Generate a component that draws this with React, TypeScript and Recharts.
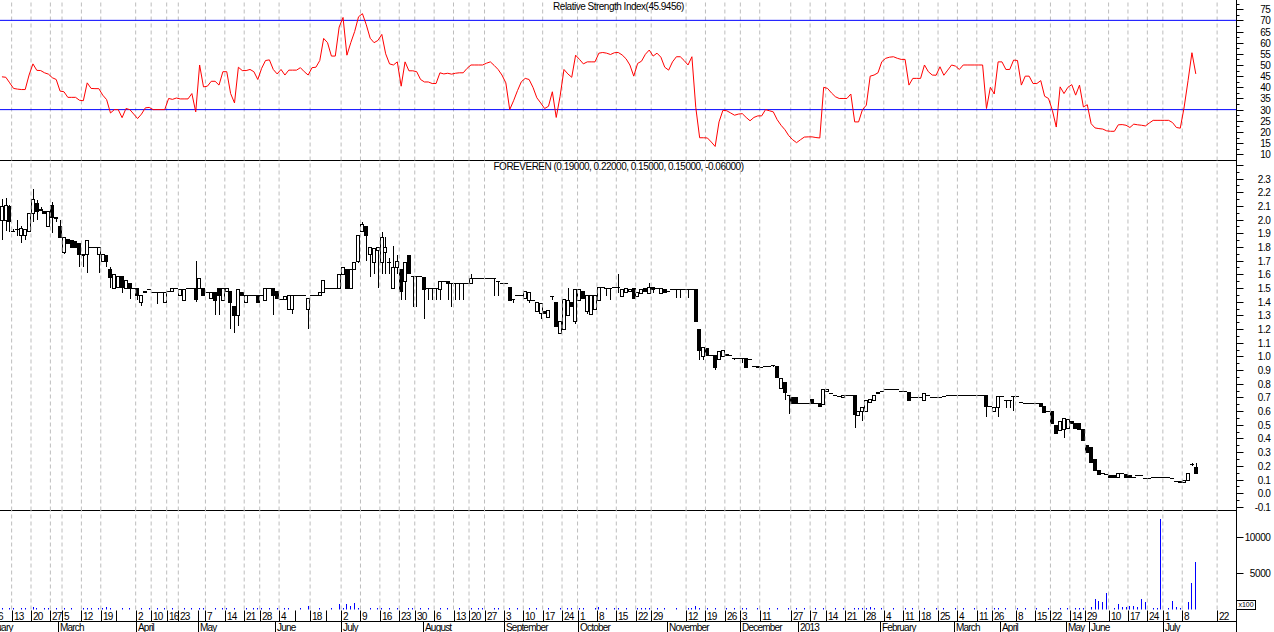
import React from 'react';
import { ComposedChart, Line, Bar, XAxis, YAxis, ReferenceLine } from 'recharts';

// ---------- daily candles (one entry per trading slot) ----------
const OPEN = [
  2.00,2.00,2.10,1.92,1.93,1.89,1.89,1.92,2.05,2.12,
  2.08,2.06,1.95,2.11,2.02,1.95,1.76,1.86,1.85,1.84,
  1.83,1.74,1.75,1.80,1.80,1.75,1.70,1.74,1.64,1.50,
  1.51,1.59,1.50,1.54,1.50,1.50,1.40,1.47,1.49,1.47,
  1.47,1.47,1.40,1.48,1.48,1.50,1.45,1.41,1.50,1.50,
  1.50,1.50,1.50,1.47,1.43,1.47,1.50,1.41,1.48,1.48,
  1.37,1.30,1.47,1.40,1.45,1.45,1.45,1.45,1.41,1.50,
  1.50,1.48,1.42,1.42,1.35,1.35,1.45,1.45,1.45,1.35,
  1.45,1.45,1.45,1.47,1.50,1.50,1.50,1.50,1.60,1.64,
  1.50,1.64,1.70,1.92,1.95,1.75,1.69,1.78,1.69,1.76,
  1.69,1.50,1.65,1.64,1.55,1.74,1.59,1.59,1.59,1.58,
  1.50,1.50,1.50,1.49,1.55,1.55,1.54,1.54,1.54,1.54,
  1.54,1.54,1.57,1.57,1.57,1.57,1.57,1.57,1.55,1.54,
  1.54,1.51,1.42,1.45,1.45,1.43,1.41,1.41,1.33,1.32,
  1.33,1.29,1.44,1.40,1.17,1.20,1.30,1.40,1.26,1.41,
  1.48,1.33,1.31,1.35,1.41,1.51,1.50,1.50,1.51,1.51,
  1.44,1.47,1.48,1.50,1.44,1.46,1.50,1.46,1.51,1.50,
  1.46,1.49,1.48,1.49,1.49,1.49,1.49,1.49,1.49,1.49,
  1.20,1.00,1.06,1.01,1.01,0.98,1.00,1.02,1.01,0.99,
  0.99,0.99,0.99,0.98,0.93,0.92,0.92,0.93,0.93,0.94,
  0.93,0.77,0.81,0.72,0.70,0.70,0.66,0.66,0.66,0.69,
  0.66,0.66,0.65,0.75,0.73,0.72,0.71,0.70,0.72,0.72,
  0.72,0.57,0.60,0.60,0.67,0.68,0.73,0.75,0.76,0.76,
  0.76,0.76,0.75,0.75,0.74,0.70,0.70,0.70,0.68,0.72,
  0.70,0.70,0.70,0.71,0.72,0.72,0.72,0.72,0.72,0.72,
  0.72,0.72,0.72,0.72,0.72,0.64,0.60,0.63,0.71,0.68,
  0.68,0.71,0.71,0.67,0.66,0.66,0.66,0.66,0.66,0.64,
  0.60,0.60,0.50,0.46,0.47,0.48,0.53,0.51,0.51,0.47,
  0.35,0.34,0.25,0.17,0.15,0.14,0.13,0.13,0.12,0.15,
  0.14,0.13,0.12,0.13,0.13,0.11,0.11,0.12,0.12,0.12,
  0.12,0.12,0.11,0.09,0.09,0.08,0.10,0.21,0.19,
];
const HIGH = [
  2.15,2.16,2.11,1.93,2.00,1.95,1.93,2.05,2.22,2.14,
  2.09,2.06,2.06,2.13,2.02,2.00,1.87,1.86,1.85,1.84,
  1.83,1.75,1.85,1.80,1.80,1.80,1.75,1.74,1.65,1.60,
  1.59,1.59,1.56,1.54,1.50,1.50,1.45,1.48,1.49,1.47,
  1.47,1.47,1.47,1.48,1.50,1.50,1.49,1.49,1.50,1.50,
  1.70,1.57,1.50,1.47,1.47,1.47,1.50,1.50,1.50,1.48,
  1.37,1.49,1.47,1.45,1.45,1.45,1.45,1.45,1.50,1.50,
  1.50,1.48,1.42,1.44,1.45,1.45,1.45,1.45,1.45,1.43,
  1.45,1.45,1.47,1.56,1.50,1.50,1.50,1.60,1.65,1.64,
  1.64,1.69,1.89,1.98,1.95,1.80,1.79,1.80,1.91,1.87,
  1.72,1.81,1.74,1.64,1.69,1.74,1.59,1.59,1.59,1.58,
  1.50,1.50,1.50,1.55,1.55,1.55,1.54,1.54,1.54,1.54,
  1.54,1.60,1.57,1.57,1.57,1.57,1.57,1.57,1.55,1.54,
  1.54,1.51,1.42,1.45,1.45,1.48,1.47,1.41,1.40,1.39,
  1.33,1.34,1.44,1.40,1.26,1.42,1.50,1.40,1.49,1.49,
  1.48,1.45,1.45,1.45,1.51,1.51,1.50,1.50,1.51,1.60,
  1.49,1.50,1.49,1.50,1.47,1.49,1.50,1.54,1.51,1.50,
  1.50,1.49,1.48,1.49,1.49,1.49,1.49,1.49,1.49,1.49,
  1.20,1.07,1.06,1.01,1.01,1.04,1.05,1.02,1.01,0.99,
  0.99,0.99,0.99,0.98,0.93,0.93,0.92,0.93,0.93,0.94,
  0.93,0.84,0.81,0.72,0.70,0.70,0.66,0.66,0.66,0.69,
  0.66,0.66,0.76,0.76,0.73,0.72,0.71,0.72,0.72,0.72,
  0.72,0.60,0.63,0.68,0.69,0.72,0.74,0.75,0.76,0.76,
  0.76,0.76,0.75,0.75,0.74,0.70,0.70,0.70,0.73,0.72,
  0.70,0.70,0.70,0.71,0.72,0.72,0.72,0.72,0.72,0.72,
  0.72,0.72,0.72,0.72,0.72,0.64,0.63,0.71,0.71,0.68,
  0.68,0.71,0.71,0.67,0.66,0.66,0.66,0.66,0.66,0.64,
  0.60,0.60,0.50,0.53,0.55,0.54,0.53,0.51,0.51,0.47,
  0.35,0.34,0.25,0.17,0.15,0.14,0.13,0.13,0.15,0.15,
  0.14,0.13,0.12,0.13,0.13,0.11,0.11,0.12,0.12,0.12,
  0.12,0.12,0.11,0.09,0.09,0.10,0.15,0.22,0.22,
];
const LOW = [
  1.85,1.92,1.91,1.91,1.88,1.83,1.85,1.92,1.98,2.00,
  2.06,2.05,1.95,1.90,1.98,1.87,1.75,1.82,1.80,1.79,
  1.65,1.65,1.61,1.80,1.80,1.61,1.70,1.65,1.50,1.50,
  1.51,1.46,1.50,1.42,1.50,1.41,1.37,1.47,1.49,1.47,
  1.38,1.47,1.40,1.48,1.48,1.50,1.45,1.41,1.50,1.50,
  1.40,1.50,1.45,1.47,1.43,1.30,1.30,1.41,1.48,1.20,
  1.17,1.22,1.45,1.40,1.45,1.45,1.40,1.45,1.41,1.50,
  1.30,1.43,1.42,1.42,1.35,1.31,1.45,1.45,1.45,1.20,
  1.45,1.45,1.45,1.47,1.50,1.50,1.50,1.50,1.60,1.50,
  1.50,1.64,1.68,1.92,1.70,1.58,1.60,1.50,1.60,1.60,
  1.60,1.50,1.60,1.41,1.41,1.61,1.36,1.36,1.59,1.27,
  1.41,1.41,1.41,1.41,1.55,1.41,1.36,1.41,1.41,1.41,
  1.54,1.54,1.57,1.57,1.57,1.57,1.57,1.44,1.44,1.54,
  1.54,1.41,1.39,1.45,1.45,1.43,1.39,1.41,1.33,1.27,
  1.32,1.28,1.41,1.22,1.17,1.20,1.30,1.37,1.24,1.41,
  1.43,1.31,1.30,1.35,1.41,1.51,1.44,1.41,1.51,1.46,
  1.44,1.47,1.48,1.43,1.44,1.46,1.48,1.46,1.46,1.50,
  1.46,1.47,1.48,1.49,1.43,1.43,1.49,1.43,1.49,1.26,
  0.97,0.97,1.01,1.01,0.90,0.98,1.00,1.01,1.01,0.97,
  0.99,0.95,0.92,0.98,0.93,0.92,0.92,0.93,0.93,0.92,
  0.85,0.77,0.68,0.58,0.66,0.66,0.66,0.66,0.66,0.66,
  0.66,0.64,0.65,0.75,0.73,0.72,0.71,0.70,0.72,0.72,
  0.48,0.57,0.53,0.60,0.67,0.68,0.73,0.75,0.76,0.76,
  0.76,0.76,0.75,0.75,0.68,0.70,0.70,0.70,0.68,0.72,
  0.70,0.70,0.70,0.71,0.72,0.72,0.72,0.72,0.72,0.72,
  0.72,0.72,0.72,0.72,0.56,0.64,0.60,0.56,0.71,0.62,
  0.62,0.60,0.71,0.67,0.66,0.66,0.66,0.66,0.635,0.59,
  0.60,0.51,0.43,0.46,0.40,0.48,0.51,0.48,0.47,0.39,
  0.30,0.23,0.17,0.14,0.15,0.14,0.12,0.12,0.12,0.15,
  0.12,0.12,0.12,0.13,0.13,0.11,0.11,0.12,0.12,0.12,
  0.12,0.12,0.11,0.09,0.08,0.08,0.10,0.20,0.15,
];
const CLOSE = [
  2.10,2.11,1.99,1.92,1.93,1.94,1.93,2.05,2.15,2.06,
  2.07,2.05,2.06,2.02,2.01,1.87,1.87,1.83,1.80,1.80,
  1.75,1.75,1.85,1.80,1.80,1.80,1.75,1.70,1.58,1.60,
  1.59,1.51,1.56,1.50,1.50,1.45,1.45,1.48,1.49,1.47,
  1.47,1.47,1.47,1.48,1.50,1.50,1.49,1.49,1.50,1.50,
  1.42,1.57,1.45,1.47,1.47,1.41,1.45,1.50,1.50,1.40,
  1.30,1.49,1.45,1.45,1.45,1.45,1.40,1.45,1.50,1.50,
  1.45,1.43,1.42,1.44,1.45,1.45,1.45,1.45,1.45,1.43,
  1.45,1.45,1.47,1.56,1.50,1.50,1.50,1.60,1.65,1.50,
  1.64,1.69,1.89,1.97,1.89,1.80,1.79,1.80,1.87,1.80,
  1.69,1.65,1.70,1.48,1.69,1.61,1.59,1.59,1.59,1.49,
  1.50,1.50,1.50,1.55,1.55,1.54,1.54,1.54,1.54,1.54,
  1.54,1.57,1.57,1.57,1.57,1.57,1.57,1.57,1.55,1.54,
  1.54,1.41,1.42,1.45,1.45,1.48,1.47,1.41,1.40,1.39,
  1.32,1.34,1.44,1.22,1.26,1.42,1.41,1.37,1.49,1.49,
  1.43,1.45,1.45,1.45,1.51,1.51,1.50,1.50,1.51,1.51,
  1.49,1.50,1.49,1.43,1.47,1.49,1.48,1.51,1.49,1.50,
  1.50,1.47,1.48,1.49,1.49,1.49,1.49,1.49,1.49,1.26,
  1.05,1.07,1.01,1.01,0.92,1.04,1.05,1.01,1.01,0.99,
  0.99,0.99,0.92,0.98,0.93,0.93,0.92,0.93,0.93,0.94,
  0.85,0.84,0.74,0.72,0.66,0.66,0.66,0.66,0.66,0.66,
  0.66,0.64,0.76,0.76,0.73,0.72,0.71,0.72,0.72,0.72,
  0.58,0.60,0.63,0.68,0.69,0.72,0.74,0.75,0.76,0.76,
  0.76,0.76,0.75,0.75,0.68,0.70,0.70,0.70,0.73,0.72,
  0.70,0.70,0.70,0.71,0.72,0.72,0.72,0.72,0.72,0.72,
  0.72,0.72,0.72,0.72,0.64,0.64,0.63,0.71,0.71,0.68,
  0.68,0.71,0.71,0.67,0.66,0.66,0.66,0.66,0.635,0.59,
  0.60,0.51,0.44,0.53,0.55,0.54,0.51,0.48,0.47,0.39,
  0.30,0.23,0.17,0.14,0.15,0.14,0.12,0.12,0.15,0.15,
  0.12,0.12,0.12,0.13,0.13,0.11,0.11,0.12,0.12,0.12,
  0.12,0.12,0.11,0.09,0.08,0.10,0.15,0.21,0.15,
];
const RSI = [
  44.7,44.5,42,39.5,39.2,39,39,45.5,50.5,47.6,
  47.5,46.5,45.9,44.3,43.5,38.3,38,35.5,35.5,35.5,
  34.2,34,42,39.5,39.4,39.4,36.5,34.5,28.5,30,
  30,26.4,30.5,30,28,26,28,30.8,31,30,
  30,30,30,35,34.6,35.2,34.8,34.8,34.8,37.2,
  29,50,40.2,40.5,42.7,42.7,41,47,47,37.2,
  33,49,47.5,47.5,48,47,43.5,48.5,52,52.3,
  48,46,48,45.5,47.7,47.7,47.7,48.8,47,45.5,
  48.8,49,52,61.9,60,54,54,67,71.3,54.4,
  60,65,71.6,73,68,62,60,61,63.7,55,
  50.5,50,51.4,40.5,51.4,47.4,47.4,47,43.5,42.4,
  42.4,41.7,41.7,46.5,46,46.3,45.9,46.3,46.5,46.5,
  48.5,50,50,50,50,50.8,51.4,49.8,48,45.5,
  42,30,34,38.5,42.5,44,43.5,40,35.3,33,
  30.5,31.5,38,26.5,36,48,46,44.5,54.4,52.5,
  50.5,51.4,51.4,51.4,55.3,55.6,55.3,54.7,55.5,55.6,
  54.5,52.8,50,45,50.7,51.7,54.8,56.7,54,55.3,
  53.5,49,47.7,51.4,53.7,53.7,52,50,53.7,31,
  17.4,17.4,17.3,15.5,13.5,24.5,29.7,29.5,28.5,27.5,
  28,28.2,26.5,25,26.5,27.2,27.2,30,29.5,29,
  25.5,23,21,18.3,16.5,15.2,16.5,17.7,17.8,17.8,
  17.5,17.3,40,39.5,37.5,35.8,35,35,35,37,
  24.5,24.5,30,32,45,45.5,46.5,51.5,53,53.5,
  53.7,53,52.5,52.5,41,44,44,44,50,47,
  45.5,45.4,49.2,45.4,47.7,50,49.5,48,50,50,
  50,50,50,50,30.5,40,37,51.4,51.4,48,
  48,52.2,52,41,45,45,41.7,41.7,43,36,
  35,29.7,22.2,40.2,37.2,40,41.2,36.5,41,31.2,
  32.2,23.7,21.8,21.5,21.3,20.5,20.3,20.3,23.2,23.3,
  23,22,23.5,23.2,23,22.7,24,25.2,25.2,25.2,
  25.2,25.2,24.2,22,21.7,31.2,43,55.5,46,
];
// volume, in units of 100 shares (axis shows "x100")
const VOLUME = [
  150,0,150,150,0,150,150,0,400,150,
  0,150,150,0,200,0,150,0,150,0,
  0,150,150,200,0,150,200,400,150,0,
  0,150,0,150,0,0,150,0,150,0,
  150,0,150,0,150,0,0,150,0,150,
  0,150,150,0,0,150,0,150,150,0,
  150,0,0,150,0,150,150,200,0,150,
  0,150,0,150,200,0,0,150,0,550,
  0,0,150,0,0,150,0,800,150,700,
  550,950,150,0,0,150,0,150,200,0,
  150,0,150,0,0,200,150,0,150,0,
  150,0,0,150,0,150,0,0,150,0,
  0,150,0,150,150,0,0,150,150,0,
  0,150,0,150,0,0,150,0,150,0,
  0,150,0,0,150,0,150,150,0,150,
  150,0,0,150,400,0,150,0,150,150,
  0,150,0,0,150,150,200,150,0,150,
  0,150,0,0,150,0,0,150,150,550,
  150,0,150,0,150,0,0,150,0,150,
  0,150,150,0,0,150,0,0,150,0,
  150,0,0,150,0,150,0,150,0,0,
  150,0,150,0,0,150,0,150,0,0,
  150,200,200,150,400,150,0,150,0,0,
  150,0,0,150,0,150,0,0,150,0,
  0,150,0,150,0,0,150,0,150,0,
  0,150,0,0,150,0,150,150,0,150,
  0,0,150,0,150,0,0,150,0,0,
  150,0,0,150,0,150,0,150,150,200,
  0,300,1400,1150,1050,2250,0,270,730,370,
  370,450,550,370,1400,1000,0,200,150,12400,
  0,150,1200,400,150,0,1050,3650,6600,
];

// ---------- axis ticks ----------
const DAY_TICKS = [-1.5, 2.5, 7.5, 12.5, 15.5, 20.5, 25.5, 29.5, 34.5, 38.5, 42.5, 45.5, 50.5, 52.5, 57.5, 62.5, 66.5, 71.5, 75.5, 79.5, 83.5, 87.5, 92.5, 97.5, 102.5, 106.5, 111.5, 116.5, 120.5, 124.5, 129.5, 134.5, 139.5, 144.5, 148.5, 153.5, 158.5, 163.5, 167.5, 176.5, 181.5, 186.5, 190.5, 195.5, 203.5, 208.5, 212.5, 217.5, 222.5, 227.5, 232.5, 236.5, 241.5, 246.5, 251.5, 255.5, 261.5, 266.5, 270.5, 275.5, 279.5, 285.5, 290.5, 295.5, 299.5, 304.5, 313.5];
const DAY_LABELS = ['6','13','20','27','5','12','19','','2','10','16','23','','7','14','21','28','4','','18','','2','9','16','23','30','6','13','20','27','3','10','17','24','1','8','15','22','29','12','19','26','3','11','27','7','14','21','28','4','11','18','25','4','11','26','8','15','22','14','29','10','17','24','1','8','22'];
const MONTH_TICKS = [-6.5, 14.5, 34.5, 50.5, 70.5, 87.5, 108.5, 129.5, 148.5, 171.5, 190.5, 205.5, 226.5, 245.5, 257.5, 274.5, 280.5, 299.5];
const MONTH_LABELS = ['February','March','April','May','June','July','August','September','October','November','December','2013','February','March','April','May','June','July'];
const RSI_TICKS = [10, 12.5, 15, 17.5, 20, 22.5, 25, 27.5, 30, 32.5, 35, 37.5, 40, 42.5, 45, 47.5, 50, 52.5, 55, 57.5, 60, 62.5, 65, 67.5, 70, 72.5, 75, 77.5];
const PRICE_TICKS = [2.4,2.35,2.3,2.25,2.2,2.15,2.1,2.05,2.0,1.95,1.9,1.85,1.8,1.75,1.7,1.65,1.6,1.55,1.5,1.45,1.4,1.35,1.3,1.25,1.2,1.15,1.1,1.05,1.0,0.95,0.9,0.85,0.8,0.75,0.7,0.65,0.6,0.55,0.5,0.45,0.4,0.35,0.3,0.25,0.2,0.15,0.1,0.05,0,-0.05,-0.1];
const VOLUME_TICKS = [5000, 10000];
const RSI_LEVELS = [70, 30];
const RSI_TITLE = 'Relative Strength Index(45.9456)';
const PRICE_TITLE = 'FOREVEREN (0.19000, 0.22000, 0.15000, 0.15000, -0.06000)';

// ---------- layout / style ----------
const FONT = "'Liberation Sans', Arial, Helvetica, sans-serif";
const W = 1274;
const AXIS_W = 37.5;
const X_DOMAIN: [number, number] = [-0.5, 318.5];
const RSI_DOMAIN: [number, number] = [7.21, 79.12];
const PRICE_DOMAIN: [number, number] = [-0.1266, 2.4356];
const VOL_DOMAIN: [number, number] = [0, 13693];
const GRID_COLOR = '#bdbdbd';

const rows = OPEN.map((o, i) => ({
  i,
  open: o,
  high: HIGH[i],
  low: LOW[i],
  close: CLOSE[i],
  range: [LOW[i], HIGH[i]],
  rsi: RSI[i],
  vol: VOLUME[i],
}));
const GRID = DAY_TICKS.filter((_, k) => DAY_LABELS[k] !== '');

const Candle = (props: any) => {
  const { x, y, width, height, payload } = props;
  if (payload == null || x == null || y == null) return null;
  const { open, close, high, low } = payload;
  const cx = Math.round(x + width / 2) + 0.5;
  const h = Math.abs(height || 0);
  const top0 = height < 0 ? y + height : y;
  const span = high - low;
  const k = span > 0 ? h / span : 0;
  const py = (v: number) => top0 + (high - v) * k;
  const yh = Math.round(py(high));
  const yl = Math.round(py(low));
  const bt = Math.round(py(Math.max(open, close)));
  const bb = Math.round(py(Math.min(open, close)));
  const up = close > open;
  return (
    <g>
      {yl > yh && <line x1={cx} x2={cx} y1={yh} y2={yl} stroke="#000" strokeWidth={1} />}
      {bb - bt < 1 ? (
        <line x1={cx - 2.5} x2={cx + 1.5} y1={bt + 0.5} y2={bt + 0.5} stroke="#000" strokeWidth={1} />
      ) : (
        <rect x={cx - 2} y={bt + 0.5} width={3} height={bb - bt} fill={up ? '#fff' : '#000'} stroke="#000" strokeWidth={1} />
      )}
    </g>
  );
};

const VolBar = (props: any) => {
  const { x, y, width, height } = props;
  if (x == null || !height || height <= 0) return null;
  const bx = Math.round(x + width / 2);
  const by = Math.round(y);
  const bh = Math.max(1, Math.round(y + height) - by);
  return <rect x={bx} y={by} width={1} height={bh} fill="#0000ff" />;
};

const makeRightTick = (isMajor: (v: number) => boolean, label: (v: number) => string | null) => (props: any) => {
  const { x, y, payload } = props;
  const v = payload.value;
  const yy = Math.round(y) + 0.5;
  const major = isMajor(v);
  const txt = label(v);
  return (
    <g>
      <line x1={x} x2={x + (major ? 7 : 3)} y1={yy} y2={yy} stroke="#000" strokeWidth={1} />
      {txt != null && (
        <text x={x + 34} y={yy + 3.5} textAnchor="end" fontSize={10} fontFamily={FONT} fill="#000" style={{ letterSpacing: '-0.4px' }}>
          {txt}
        </text>
      )}
    </g>
  );
};

const rsiTick = makeRightTick(
  (v) => Math.abs(v % 5) < 1e-6,
  (v) => (Math.abs(v % 5) < 1e-6 ? String(v) : null)
);
const priceTick = makeRightTick(
  (v) => Math.abs(Math.round(v * 20)) % 2 === 0,
  (v) => (Math.abs(Math.round(v * 20)) % 2 === 0 && v < 2.35 ? v.toFixed(1) : null)
);
const volTick = makeRightTick(() => true, (v) => String(v));

const DayTick = (props: any) => {
  const { x, y, payload } = props;
  const k = DAY_TICKS.indexOf(payload.value);
  const label = k >= 0 ? DAY_LABELS[k] : '';
  const xx = Math.round(x) + 0.5;
  return (
    <g>
      <line x1={xx} x2={xx} y1={y + 1} y2={y + 12} stroke="#000" strokeWidth={1} />
      <text x={xx + 1.5} y={y + 10} fontSize={10} fontFamily={FONT} fill="#000" style={{ letterSpacing: '-0.8px' }}>
        {label}
      </text>
    </g>
  );
};

const MonthTick = (props: any) => {
  const { x, y, payload } = props;
  const k = MONTH_TICKS.indexOf(payload.value);
  const label = k >= 0 ? MONTH_LABELS[k] : '';
  const xx = Math.round(x) + 0.5;
  return (
    <g>
      <line x1={xx} x2={xx} y1={y} y2={y + 11} stroke="#000" strokeWidth={1} />
      <text x={xx + 1.5} y={y + 9.5} fontSize={10} fontFamily={FONT} fill="#000" style={{ letterSpacing: '-0.8px' }}>
        {label}
      </text>
    </g>
  );
};

const gridLines = (axisId?: string) =>
  GRID.map((g) => (
    <ReferenceLine
      key={'g' + g}
      x={g}
      {...(axisId ? { xAxisId: axisId } : {})}
      stroke={GRID_COLOR}
      strokeDasharray="4 3"
      strokeWidth={1}
    />
  ));

const titleStyle: React.CSSProperties = {
  position: 'absolute',
  left: 0,
  width: 1237,
  textAlign: 'center',
  fontFamily: FONT,
  fontSize: 10,
  lineHeight: '10px',
  letterSpacing: '-0.5px',
  color: '#000',
  whiteSpace: 'nowrap',
  pointerEvents: 'none',
};

export default function App() {
  return (
    <div style={{ position: 'absolute', left: 0, top: 0, width: W, height: 632, background: '#fff', overflow: 'hidden' }}>
      {/* RSI panel */}
      <div style={{ position: 'absolute', left: 0, top: 0 }}>
        <ComposedChart width={W} height={161.5} data={rows} margin={{ top: 0, right: 0, bottom: 0, left: 0 }}>
          <XAxis dataKey="i" type="number" domain={X_DOMAIN} allowDataOverflow height={1} tick={false} tickLine={false} axisLine={{ stroke: '#000' }} />
          <YAxis orientation="right" width={AXIS_W} type="number" domain={RSI_DOMAIN} allowDataOverflow ticks={RSI_TICKS} interval={0} tickSize={0} tickMargin={0} tickLine={false} axisLine={{ stroke: '#000' }} tick={rsiTick} />
          {gridLines()}
          {RSI_LEVELS.map((lv) => (
            <ReferenceLine key={'l' + lv} y={lv} stroke="#0000ff" strokeWidth={1} />
          ))}
          <Line dataKey="rsi" type="linear" stroke="#ff0000" strokeWidth={1} dot={false} activeDot={false} isAnimationActive={false} />
        </ComposedChart>
      </div>
      {/* Price panel */}
      <div style={{ position: 'absolute', left: 0, top: 160 }}>
        <ComposedChart width={W} height={351.5} data={rows} margin={{ top: 0, right: 0, bottom: 0, left: 0 }}>
          <XAxis dataKey="i" type="number" domain={X_DOMAIN} allowDataOverflow height={1} tick={false} tickLine={false} axisLine={{ stroke: '#000' }} />
          <YAxis orientation="right" width={AXIS_W} type="number" domain={PRICE_DOMAIN} allowDataOverflow ticks={PRICE_TICKS} interval={0} tickSize={0} tickMargin={0} tickLine={false} axisLine={{ stroke: '#000' }} tick={priceTick} />
          {gridLines()}
          <Bar dataKey="range" barSize={4} shape={Candle} isAnimationActive={false} />
        </ComposedChart>
      </div>
      {/* Volume panel + date axis */}
      <div style={{ position: 'absolute', left: 0, top: 510 }}>
        <ComposedChart width={W} height={122.5} data={rows} margin={{ top: 0, right: 0, bottom: 0, left: 0 }}>
          <XAxis xAxisId="d" dataKey="i" type="number" domain={X_DOMAIN} allowDataOverflow ticks={DAY_TICKS} interval={0} height={12} tickSize={0} tickMargin={0} tickLine={false} axisLine={false} tick={DayTick} />
          <XAxis xAxisId="m" dataKey="i" type="number" domain={X_DOMAIN} allowDataOverflow ticks={MONTH_TICKS} interval={0} height={11} tickSize={0} tickMargin={0} tickLine={false} axisLine={{ stroke: '#000' }} tick={MonthTick} />
          <YAxis orientation="right" width={AXIS_W} type="number" domain={VOL_DOMAIN} allowDataOverflow ticks={VOLUME_TICKS} interval={0} tickSize={0} tickMargin={0} tickLine={false} axisLine={{ stroke: '#000' }} tick={volTick} />
          {gridLines('d')}
          <Bar xAxisId="d" dataKey="vol" barSize={1} shape={VolBar} isAnimationActive={false} />
        </ComposedChart>
      </div>
      {/* right axis line through the date rows */}
      <div style={{ position: 'absolute', left: 1236, top: 609, width: 1, height: 23, background: '#000' }} />
      {/* titles */}
      <div style={{ ...titleStyle, top: 2 }}>{RSI_TITLE}</div>
      <div style={{ ...titleStyle, top: 162 }}>{PRICE_TITLE}</div>
      {/* volume multiplier box */}
      <div
        style={{
          position: 'absolute',
          left: 1236,
          top: 600,
          width: 20,
          height: 10,
          boxSizing: 'border-box',
          border: '1px solid #000',
          background: '#fff',
          fontFamily: FONT,
          fontSize: 7,
          lineHeight: '8px',
          textAlign: 'center',
          color: '#000',
        }}
      >
        x100
      </div>
    </div>
  );
}
